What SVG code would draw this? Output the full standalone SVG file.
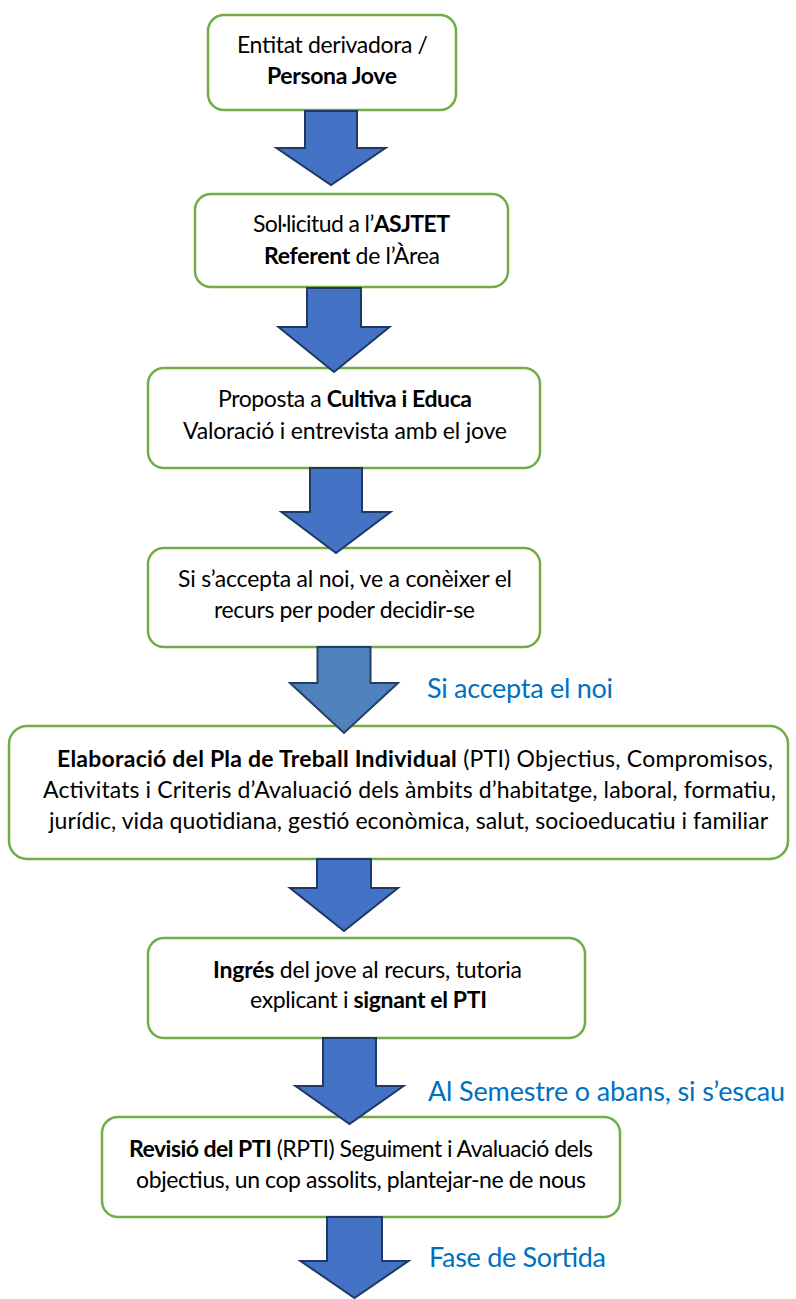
<svg xmlns="http://www.w3.org/2000/svg" width="796" height="1299" viewBox="0 0 796 1299">
<style>
.box{fill:#fff;stroke:#70AD47;stroke-width:2.5}
.t{font-family:Lato,"Liberation Sans",sans-serif;font-size:23px;fill:#000;text-anchor:middle}
.b{font-weight:bold}
.lbl{font-family:Lato,"Liberation Sans",sans-serif;font-size:27px;fill:#0070C0}
.arr{fill:#4472C4;stroke:#1F3864;stroke-width:2;stroke-linejoin:miter}
.arr2{fill:#4F81BD;stroke:#243F60;stroke-width:2}
</style>
<rect width="796" height="1299" fill="#fff"/>
<g id="n1">
<rect class="box" x="208" y="15" width="248" height="95" rx="16"/>
<text class="t" x="332.5" y="53" textLength="191">Entitat derivadora /</text>
<text class="t b" x="332" y="84" textLength="130">Persona Jove</text>
</g>
<g id="n2">
<rect class="box" x="195" y="194" width="313" height="93" rx="16"/>
<text class="t" x="351.5" y="232" textLength="197">Sol·licitud a l’<tspan class="b">ASJTET</tspan></text>
<text class="t" x="352" y="264" textLength="176"><tspan class="b">Referent</tspan> de l’Àrea</text>
</g>
<g id="n3">
<rect class="box" x="148" y="368" width="392" height="100" rx="16"/>
<text class="t" x="345" y="407" textLength="254">Proposta a <tspan class="b">Cultiva i Educa</tspan></text>
<text class="t" x="345" y="439" textLength="324">Valoració i entrevista amb el jove</text>
</g>
<g id="n4">
<rect class="box" x="148" y="548" width="392" height="99" rx="16"/>
<text class="t" x="345" y="587" textLength="334">Si s’accepta al noi, ve a conèixer el</text>
<text class="t" x="344.5" y="618" textLength="261">recurs per poder decidir-se</text>
</g>
<g id="n5">
<rect class="box" x="9" y="726" width="779" height="133" rx="18"/>
<text class="t" x="415" y="767" textLength="716"><tspan class="b">Elaboració del Pla de Treball Individual</tspan> (PTI) Objectius, Compromisos,</text>
<text class="t" x="409.5" y="798" textLength="733">Activitats i Criteris d’Avaluació dels àmbits d’habitatge, laboral, formatiu,</text>
<text class="t" x="408.5" y="829" textLength="719">jurídic, vida quotidiana, gestió econòmica, salut, socioeducatiu i familiar</text>
</g>
<g id="n6">
<rect class="box" x="148" y="938" width="437" height="100" rx="16"/>
<text class="t" x="367.5" y="978" textLength="309"><tspan class="b">Ingrés</tspan> del jove al recurs, tutoria</text>
<text class="t" x="368.5" y="1008" textLength="237">explicant i <tspan class="b">signant el PTI</tspan></text>
</g>
<g id="n7">
<rect class="box" x="102" y="1117" width="518" height="100" rx="16"/>
<text class="t" x="361" y="1157" textLength="464"><tspan class="b">Revisió del PTI</tspan> (RPTI) Seguiment i Avaluació dels</text>
<text class="t" x="361" y="1188" textLength="450">objectius, un cop assolits, plantejar-ne de nous</text>
</g>
<g id="connectors">
<path class="arr" d="M305,111 H357 V148 H385.5 L331,185 L276.5,148 H305 Z"/>
<path class="arr" d="M307,288 H361 V327 H389.5 L334,372 L278.5,327 H307 Z"/>
<path class="arr" d="M310,468 H362 V512 H390.5 L336,553 L281.5,512 H310 Z"/>
<path class="arr2" d="M317.5,647 H370.5 V683 H398 L344,733 L290,683 H317.5 Z"/>
<path class="arr" d="M317,859 H371 V888 H398 L344,931 L290,888 H317 Z"/>
<path class="arr" d="M323,1038 H376 V1086 H403.5 L349.5,1124 L295.5,1086 H323 Z"/>
<path class="arr" d="M327,1217 H382 V1261 H408.5 L354.5,1298 L300.5,1261 H327 Z"/>
<text class="lbl" x="427" y="698" textLength="186">Si accepta el noi</text>
<text class="lbl" x="428" y="1101" textLength="357">Al Semestre o abans, si s’escau</text>
<text class="lbl" x="429" y="1267" textLength="177">Fase de Sortida</text>
</g>
</svg>
